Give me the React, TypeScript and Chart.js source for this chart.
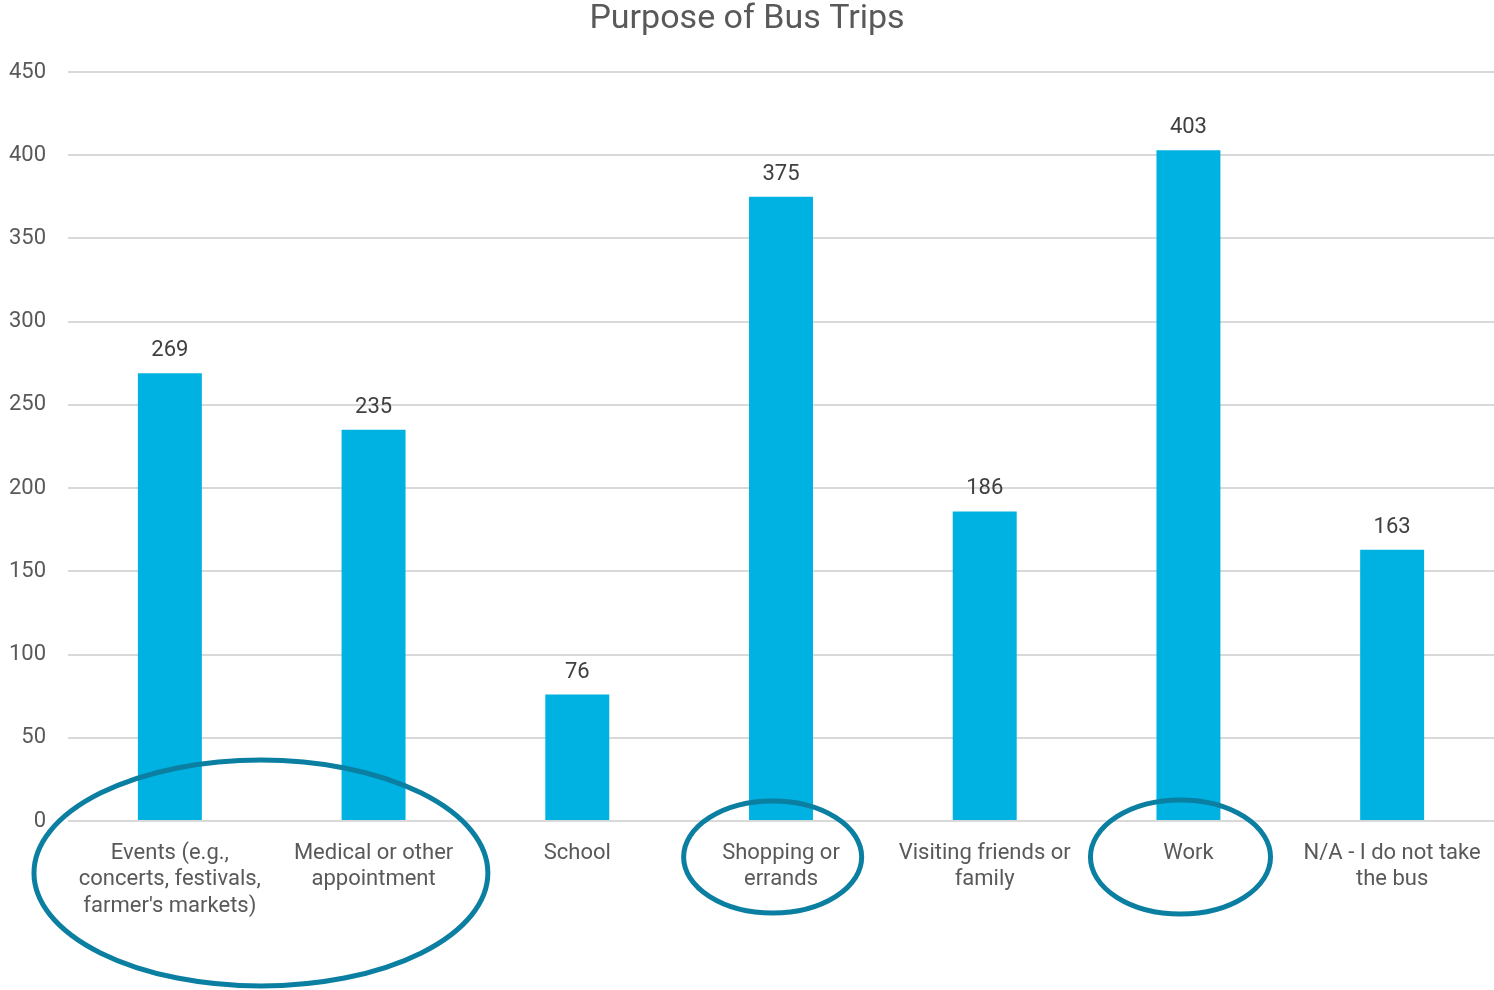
import React, { useEffect, useRef } from "react";
import { Chart, registerables } from "chart.js";

Chart.register(...registerables);

const title = "Purpose of Bus Trips";
const categories: string[][] = [
  ["Events (e.g.,", "concerts, festivals,", "farmer's markets)"],
  ["Medical or other", "appointment"],
  ["School"],
  ["Shopping or", "errands"],
  ["Visiting friends or", "family"],
  ["Work"],
  ["N/A - I do not take", "the bus"],
];
const counts: number[] = [269, 235, 76, 375, 186, 403, 163];
const yTicks: number[] = [0, 50, 100, 150, 200, 250, 300, 350, 400, 450];
// highlight ellipses: centre in category-index units, radius in index units, vertical offset/radius in px below axis
const highlightCenters: number[] = [0.447, 2.959, 4.961];
const highlightRadiiX: number[] = [1.114, 0.437, 0.442];
const highlightOffsetsY: number[] = [52, 36, 36];
const highlightRadiiY: number[] = [113, 56, 57];

const FONT = "Roboto, 'Liberation Sans', sans-serif";

const dataLabelPlugin = {
  id: "dataLabels",
  afterDatasetsDraw(chart: any) {
    const ctx = chart.ctx;
    const meta = chart.getDatasetMeta(0);
    ctx.save();
    ctx.font = `22px ${FONT}`;
    ctx.fillStyle = "#404040";
    ctx.textAlign = "center";
    ctx.textBaseline = "alphabetic";
    meta.data.forEach((bar: any, i: number) => {
      ctx.fillText(String(counts[i]), bar.x, bar.y - 17);
    });
    ctx.restore();
  },
};

const ellipsePlugin = {
  id: "highlightEllipses",
  afterDraw(chart: any) {
    const ctx = chart.ctx;
    const xs = chart.scales.x;
    const base = chart.chartArea.bottom;
    ctx.save();
    ctx.strokeStyle = "#0b7fa1";
    ctx.lineWidth = 5;
    highlightCenters.forEach((c, i) => {
      const cx = xs.getPixelForValue(c);
      const rx = Math.abs(xs.getPixelForValue(c + highlightRadiiX[i]) - cx);
      ctx.beginPath();
      ctx.ellipse(cx, base + highlightOffsetsY[i], rx, highlightRadiiY[i], 0, 0, Math.PI * 2);
      ctx.stroke();
    });
    ctx.restore();
  },
};

export default function App() {
  const ref = useRef<HTMLCanvasElement>(null);
  useEffect(() => {
    if (!ref.current) return;
    const chart = new Chart(ref.current, {
      type: "bar",
      data: {
        labels: categories,
        datasets: [
          {
            data: counts,
            backgroundColor: "#00B2E1",
            borderWidth: 0,
            categoryPercentage: 1,
            barPercentage: 0.314,
          },
        ],
      },
      options: {
        animation: false,
        responsive: false,
        maintainAspectRatio: false,
        layout: { padding: { left: 0, right: 0, top: 0, bottom: 0 } },
        plugins: {
          legend: { display: false },
          tooltip: { enabled: false },
          title: {
            display: true,
            text: title,
            color: "#595959",
            font: { family: FONT, size: 34, weight: "normal", lineHeight: 1.1 },
            padding: { top: 1, bottom: 33.6 },
          },
        },
        scales: {
          x: {
            grid: { display: false, drawTicks: false },
            border: { display: false },
            ticks: {
              color: "#595959",
              font: { family: FONT, size: 22, lineHeight: 1.2 },
              padding: 19,
              maxRotation: 0,
              autoSkip: false,
            },
            afterFit(scale: any) {
              scale.height = 169;
              scale.paddingLeft = 0;
              scale.paddingRight = 0;
            },
          },
          y: {
            min: 0,
            max: 450,
            afterBuildTicks(scale: any) {
              scale.ticks = yTicks.map((v) => ({ value: v }));
            },
            grid: { color: "#d9d9d9", lineWidth: 2, drawTicks: false },
            border: { display: false },
            ticks: {
              color: "#595959",
              font: { family: FONT, size: 22 },
              padding: 22,
            },
            afterFit(scale: any) {
              scale.width = 68;
              scale.paddingTop = 0;
              scale.paddingBottom = 0;
            },
          },
        },
      },
      plugins: [dataLabelPlugin, ellipsePlugin],
    });
    return () => chart.destroy();
  }, []);
  return (
    <div style={{ position: "fixed", left: 0, top: 0, width: 1494, height: 990, background: "#fff" }}>
      <canvas ref={ref} width={1494} height={990} style={{ width: 1494, height: 990 }} />
    </div>
  );
}
